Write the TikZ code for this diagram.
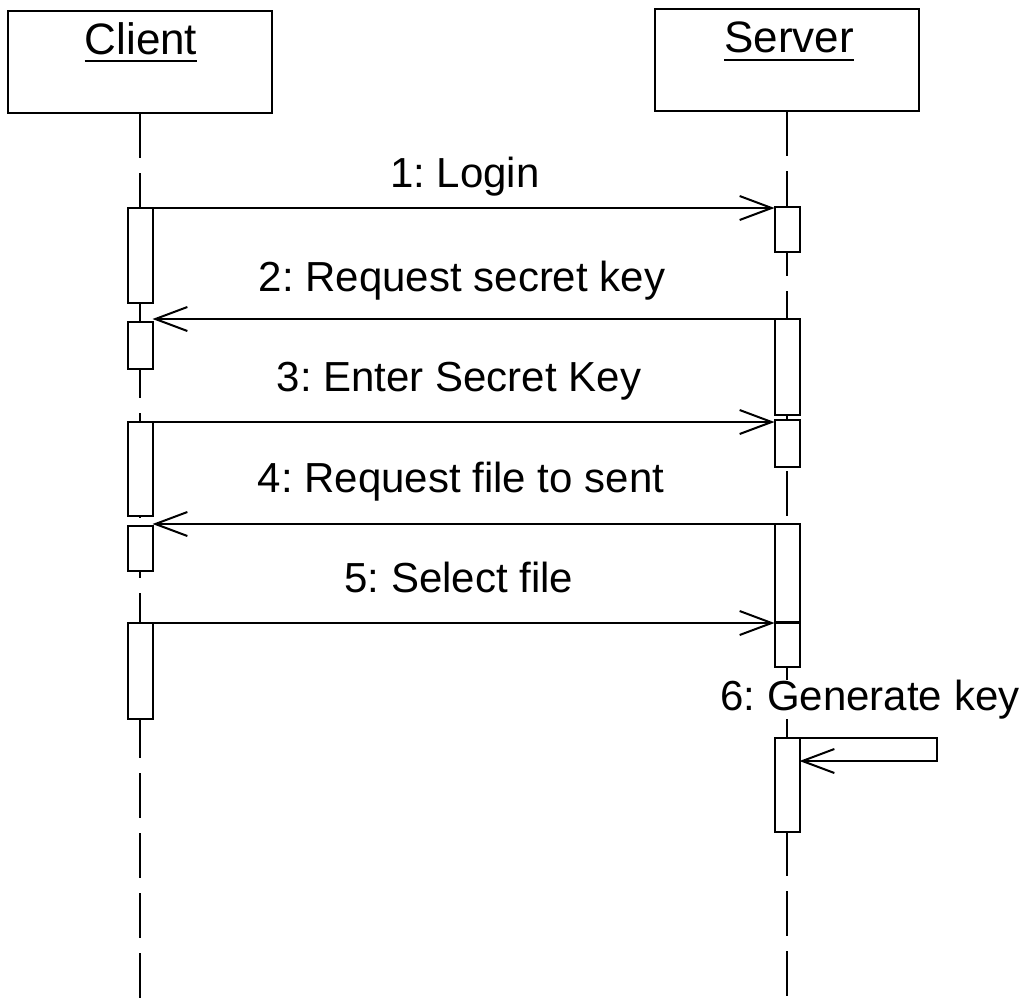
\documentclass[tikz,border=0pt]{standalone}
\usepackage{fontspec}
\setmainfont{Liberation Sans}
\usetikzlibrary{arrows.meta}
\frenchspacing
\begin{document}
\begin{tikzpicture}[x=1pt,y=-1pt,
 obj/.style={draw, line width=2.5pt, minimum width=264pt, minimum height=102pt, inner sep=0pt, outer sep=0pt},
 act/.style={draw, fill=white, line width=2pt, minimum width=25pt, inner sep=0pt, outer sep=0pt},
 life/.style={line width=2pt, dash pattern=on 45pt off 15pt},
 msg/.style={line width=2pt, -{Straight Barb[length=32pt,width=24pt,line width=2pt]}},
 title/.style={inner sep=0pt, anchor=base, font=\fontsize{44}{50}\selectfont\frenchspacing},
 lbl/.style={inner sep=0pt, anchor=base, font=\fontsize{42}{48}\selectfont\frenchspacing},
 uline/.style={line width=2pt}
]
\useasboundingbox (0,0) rectangle (1028,999);

% objects
\node[obj] (client) at (140,62) {};
\node[obj] (server) at (787,60) {};
\node[title] (ct) at (141,54) {Client};
\node[title] (st) at (789,52) {Server};
\draw[uline] ([yshift=-7pt]ct.base west) -- ([yshift=-7pt]ct.base east);
\draw[uline] ([yshift=-8pt]st.base west) -- ([yshift=-8pt]st.base east);

% lifelines
\coordinate (cend) at (140,999);
\coordinate (send) at (787,999);
\draw[life] (client.south) -- (cend);
\draw[life] (server.south) -- (send);

% activation bars: client
\node[act, minimum height=95pt] (c1) at (140,255.5) {};
\node[act, minimum height=47pt] (c2) at (140,345.5) {};
\node[act, minimum height=94pt] (c3) at (140,469) {};
\node[act, minimum height=45pt] (c4) at (140,548.5) {};
\node[act, minimum height=96pt] (c5) at (140,671) {};
% activation bars: server
\node[act, minimum height=45pt] (s1) at (787,229.5) {};
\node[act, minimum height=96pt] (s2) at (787,367) {};
\node[act, minimum height=47pt] (s3) at (787,443.5) {};
\node[act, minimum height=98pt] (s4) at (787,573) {};
\node[act, minimum height=44pt] (s5) at (787,645) {};
\node[act, minimum height=94pt] (s6) at (787,785) {};

% messages
\draw[msg] (c1.north east) -- (c1.north east -| s1.west);
\draw[msg] (s2.north west) -- (s2.north west -| c2.east);
\draw[msg] (c3.north east) -- (c3.north east -| s3.west);
\draw[msg] (s4.north west) -- (s4.north west -| c4.east);
\draw[msg] (c5.north east) -- (c5.north east -| s5.west);
\coordinate (sr) at (937,761);
\draw[msg] (s6.north east) -| (sr) -- (sr -| s6.east);

% labels
\node[lbl] (m1) at (465,187) {1: Login};
\node[lbl] (m2) at (462,291) {2: Request secret key};
\node[lbl] (m3) at (459,391) {3: Enter Secret Key};
\node[lbl] (m4) at (461,492) {4: Request file to sent};
\node[lbl] (m5) at (459,592) {5: Select file};
\node[lbl, fill=white] (m6) at (870,710) {6: Generate key};
\end{tikzpicture}
\end{document}
